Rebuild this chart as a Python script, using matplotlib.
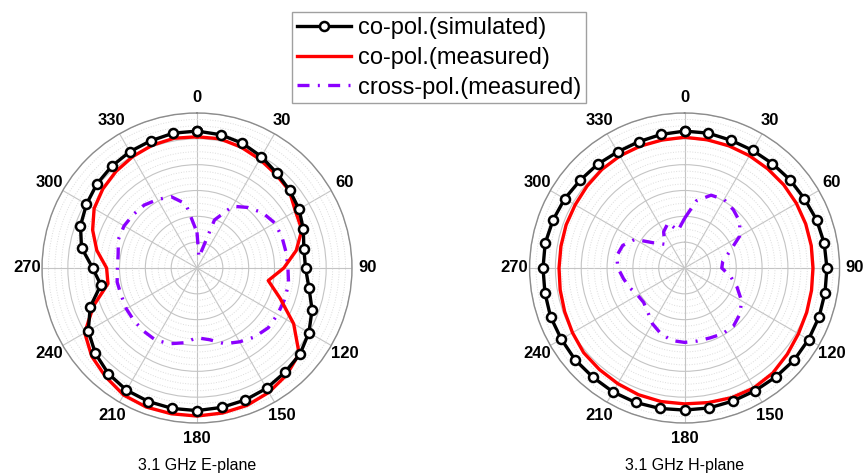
import numpy as np
import matplotlib
matplotlib.use("Agg")
import matplotlib.pyplot as plt
from matplotlib.ticker import MultipleLocator

plt.rcParams["font.family"] = ["Liberation Sans", "DejaVu Sans"]

# angles in degrees, one sample every 10 degrees
angles_deg = np.arange(0, 360, 10)

# 3.1 GHz E-plane, normalised pattern in dB
e_sim = [-3.5, -3.8, -4.3, -5.1, -6.0, -6.6, -7.2, -8.1, -9.0, -9.0, -8.0, -6.3,
         -5.0, -4.0, -3.6, -3.1, -2.8, -2.6, -2.4, -2.4, -2.5, -2.7, -3.3, -4.3,
         -5.7, -8.0, -11.1, -9.8, -7.3, -6.0, -5.3, -4.7, -4.3, -4.0, -3.8, -3.5]
e_meas = [-4.6, -4.6, -5.1, -5.7, -6.3, -6.7, -8.0, -8.4, -10.5, -13.2, -16.0, -12.9,
          -8.4, -4.2, -3.0, -2.2, -1.7, -1.5, -1.35, -1.35, -1.35, -1.6, -2.5, -3.4,
          -4.9, -8.7, -12.5, -12.5, -10.3, -8.5, -7.0, -6.2, -5.6, -5.1, -4.7, -4.5]
e_cross = [-23.1, -27.9, -20.1, -16.2, -14.7, -13.4, -12.6, -12.5, -12.5, -12.4, -12.0, -12.0,
           -12.0, -12.0, -12.6, -13.5, -14.4, -15.9, -16.5, -15.3, -14.4, -13.9, -14.0, -14.1,
           -14.2, -14.4, -14.3, -14.6, -14.5, -13.8, -13.7, -13.9, -14.1, -14.7, -15.3, -17.4]

# 3.1 GHz H-plane
h_sim = [-3.5, -3.5, -3.7, -3.7, -3.6, -3.4, -3.2, -2.8, -2.55, -2.45, -2.4, -2.3,
         -2.3, -2.3, -2.5, -2.6, -2.6, -2.5, -2.5, -2.4, -2.3, -2.3, -2.4, -2.35,
         -2.45, -2.4, -2.55, -2.6, -2.6, -2.9, -3.2, -3.6, -3.8, -4.05, -4.0, -3.75]
h_meas = [-4.7, -4.8, -4.85, -4.9, -4.95, -4.95, -5.0, -5.05, -5.1, -5.15, -5.05, -4.85,
          -4.55, -4.05, -3.45, -3.2, -3.3, -3.55, -3.7, -3.75, -3.9, -4.15, -4.35, -4.5,
          -4.95, -5.3, -5.55, -5.7, -5.7, -5.6, -5.55, -5.35, -5.1, -4.95, -4.9, -4.85]
h_cross = [-20.4, -16.8, -15.0, -14.7, -15.3, -16.05, -17.7, -20.7, -22.5, -22.8, -21.0, -19.2,
           -17.25, -16.05, -15.3, -15.3, -15.6, -15.65, -15.6, -15.75, -16.5, -17.55, -18.9, -19.65,
           -19.5, -18.75, -18.0, -17.1, -16.65, -17.25, -18.9, -22.5, -24.0, -21.9, -20.7, -22.65]

titles = ["3.1 GHz E-plane", "3.1 GHz H-plane"]
legend_labels = ["co-pol.(simulated)", "co-pol.(measured)", "cross-pol.(measured)"]
r_min, r_max = -30, 0

purple = "#8B00FF"


def closed(vals):
    th = np.deg2rad(np.append(angles_deg, 360))
    return th, np.append(vals, vals[0])


fig = plt.figure(figsize=(8.66, 4.74), dpi=100)
rects = [[0.0485, 0.1076, 0.358, 0.654], [0.6115, 0.1076, 0.358, 0.654]]
datasets = [(e_sim, e_meas, e_cross), (h_sim, h_meas, h_cross)]

handles = None
for rect, (sim, meas, cross), title in zip(rects, datasets, titles):
    ax = fig.add_axes(rect, projection="polar")
    ax.set_theta_zero_location("N")
    ax.set_theta_direction(-1)
    ax.set_ylim(r_min, r_max)

    ax.yaxis.set_major_locator(MultipleLocator(5))
    ax.yaxis.set_minor_locator(MultipleLocator(1.25))
    ax.set_yticklabels([])
    ax.set_thetagrids(np.arange(0, 360, 30), labels=[str(a) for a in range(0, 360, 30)],
                      fontsize=12, fontweight="bold")
    ax.tick_params(axis="x", pad=0.5)
    ax.grid(which="major", color="#c4c4c4", linewidth=0.8, linestyle="-")
    ax.grid(which="minor", axis="y", color="#dcdcdc", linewidth=0.7, linestyle=":")
    ax.spines["polar"].set_color("#8c8c8c")
    ax.spines["polar"].set_linewidth(1.0)

    th, r = closed(sim)
    h1, = ax.plot(th, r, color="black", linewidth=2.4, marker="o", markersize=6.5,
                  markerfacecolor="white", markeredgecolor="black", markeredgewidth=1.8,
                  zorder=5)
    th, r = closed(meas)
    h2, = ax.plot(th, r, color="#ff0000", linewidth=2.4, zorder=4)
    th, r = closed(cross)
    h3, = ax.plot(th, r, color=purple, linewidth=2.4, linestyle=(0, (3.6, 2.5, 0.6, 2.5)),
                  zorder=3)
    handles = [h1, h2, h3]

    x_mid = rect[0] + rect[2] / 2
    fig.text(x_mid, 0.017, title, ha="center", va="center", fontsize=11.5)

leg = fig.legend(handles, legend_labels, loc="upper center", bbox_to_anchor=(0.507, 0.974),
                 fontsize=17, frameon=True, fancybox=False, framealpha=1,
                 edgecolor="#a0a0a0", handlelength=2.3, handletextpad=0.3,
                 labelspacing=0.33, borderpad=0.2, borderaxespad=0)
leg.get_frame().set_linewidth(1.0)

fig.savefig("out.png", dpi=100)
